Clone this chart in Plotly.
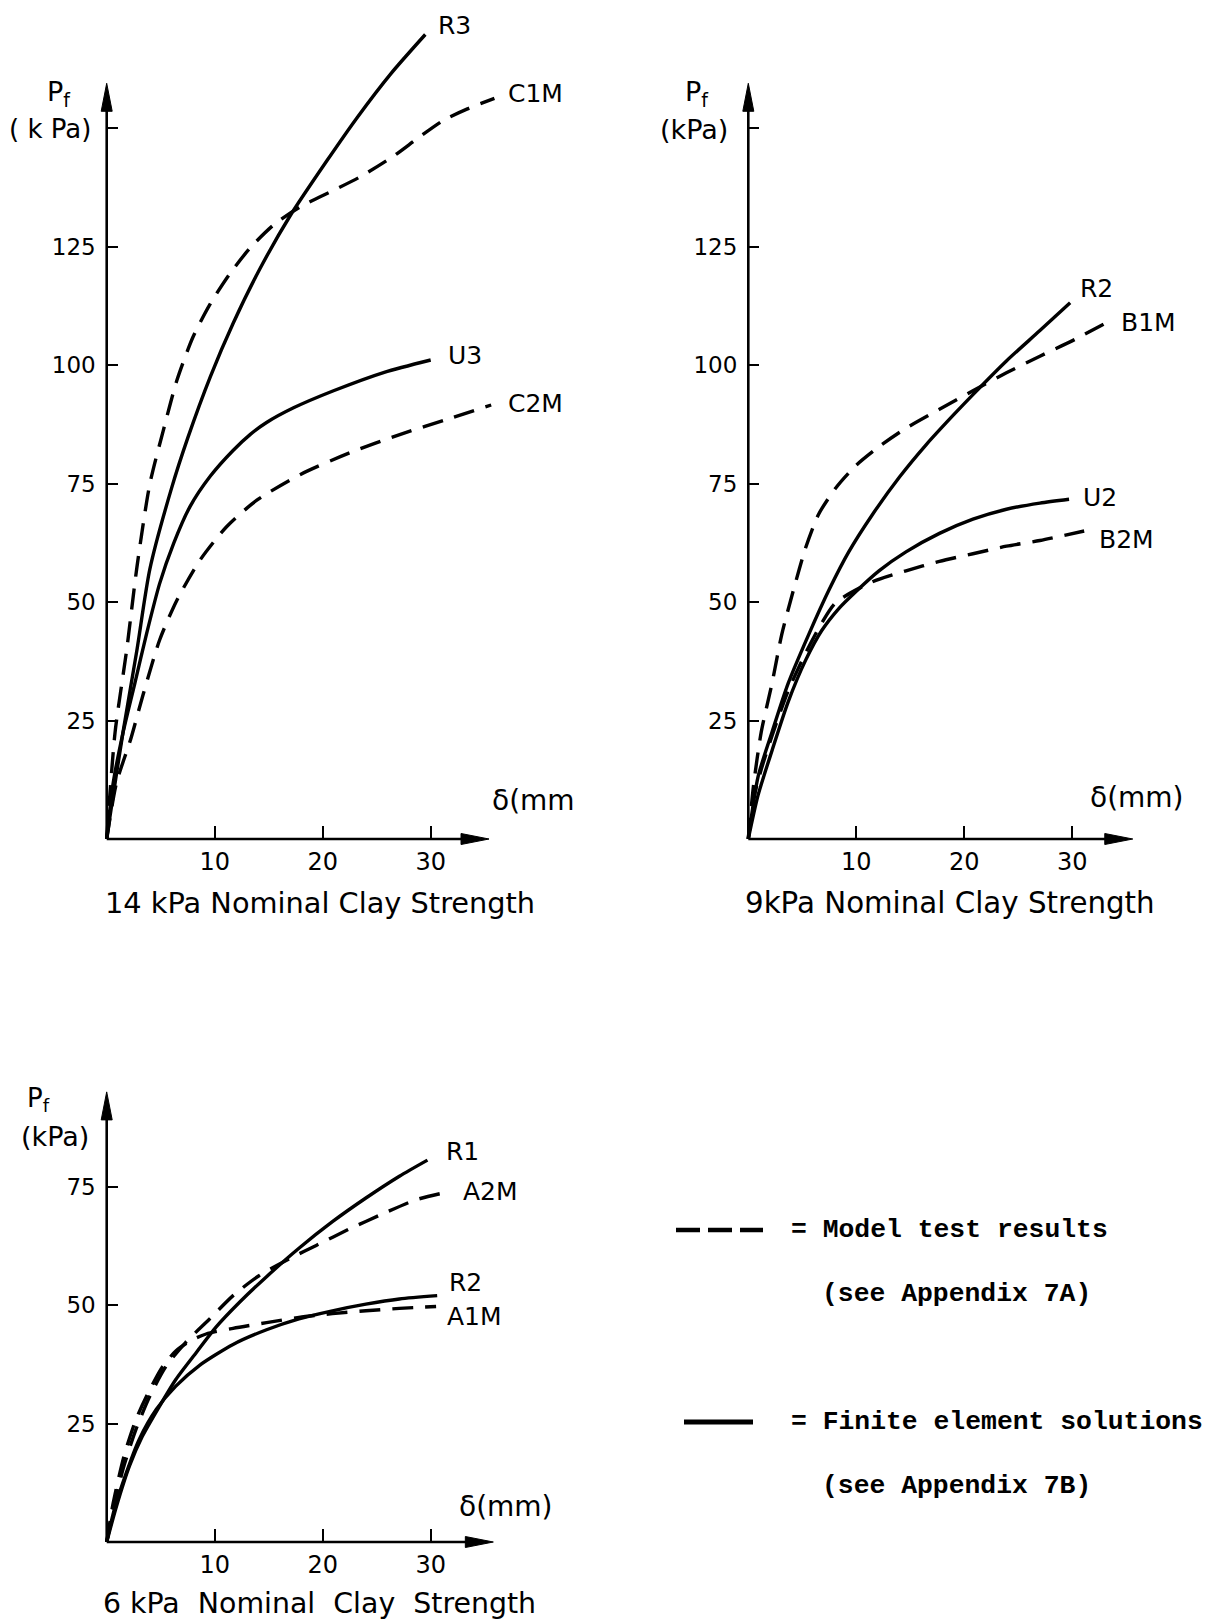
import plotly.graph_objects as go

# ---------------------------------------------------------------
# Footing pressure Pf (kPa) against settlement delta (mm)
# ---------------------------------------------------------------

# 14 kPa nominal clay strength
R3_d = [0, 0.3, 1.5, 2.8, 4.0, 6.0, 7.5, 9.6, 11.7, 14.2, 17.0, 20.4, 23.2, 26.3, 29.5]
R3_p = [0, 4.7, 22.4, 39.9, 57.0, 74.0, 84.6, 97.6, 108.8, 120.4, 131.6, 143.2, 152.3, 161.5, 169.8]
C1M_d = [0, 0.77, 1.85, 2.8, 4.0, 5.25, 6.5, 8.0, 9.6, 11.4, 13.3, 15.5, 17.9, 21.0, 23.5, 26.6, 28.8, 31.2, 33.4, 35.9]
C1M_p = [0, 22.4, 39.9, 57.4, 75.0, 86.3, 96.8, 106.0, 113.0, 119.3, 124.8, 129.7, 133.4, 136.9, 139.8, 144.2, 147.9, 151.7, 154.1, 156.3]
U3_d = [0, 0.6, 1.5, 2.6, 3.7, 4.9, 6.2, 7.7, 9.6, 11.7, 13.3, 14.8, 17.3, 21.0, 25.7, 30.0]
U3_p = [0, 11.8, 22.3, 32.8, 43.4, 53.9, 62.4, 70.1, 76.6, 82.0, 85.4, 87.9, 91.0, 94.6, 98.5, 101.1]
C2M_d = [0, 0.9, 2.2, 3.4, 4.9, 6.5, 8.65, 11.1, 13.9, 17.9, 22.6, 27.2, 31.8, 35.6]
C2M_p = [0, 11.8, 20.9, 30.7, 42.0, 50.4, 58.9, 65.9, 71.5, 76.9, 81.6, 85.4, 88.8, 91.6]

# 9 kPa nominal clay strength
R2_d = [0, 0.9, 2.2, 3.7, 5.6, 7.5, 9.3, 11.5, 14.0, 16.5, 19.0, 20.8, 23.9, 27.0, 29.8]
R2_p = [0, 13.1, 22.6, 32.9, 43.2, 52.7, 60.6, 68.5, 76.4, 83.3, 89.5, 93.8, 100.9, 107.3, 113.2]
B1M_d = [0, 0.5, 1.2, 2.2, 3.1, 4.2, 5.3, 6.5, 8.1, 9.95, 12.1, 14.6, 17.7, 20.8, 23.9, 27.0, 30.2, 33.1]
B1M_p = [0, 11.6, 22.6, 32.9, 43.2, 52.7, 61.4, 68.5, 74.1, 78.8, 82.8, 86.7, 90.7, 94.6, 98.4, 101.9, 105.4, 108.9]
U2_d = [0, 0.9, 2.2, 3.7, 5.3, 6.8, 8.4, 9.95, 12.1, 14.6, 17.7, 20.8, 23.9, 27.0, 29.7]
U2_p = [0, 9.2, 18.7, 29.0, 37.7, 44.0, 48.7, 52.2, 56.6, 60.6, 64.5, 67.5, 69.6, 70.9, 71.7]
B2M_d = [0, 0.3, 1.2, 2.2, 3.7, 5.3, 6.8, 8.1, 11.5, 14.6, 17.7, 20.8, 23.9, 27.0, 31.1]
B2M_p = [0, 6.8, 14.7, 21.8, 31.3, 39.2, 45.6, 49.9, 54.3, 56.6, 58.6, 60.2, 61.8, 63.0, 65.0]

# 6 kPa nominal clay strength
R1_d = [0, 0.9, 2.1, 3.3, 4.9, 6.4, 8.3, 10.1, 12.3, 14.8, 17.8, 20.9, 24.0, 27.1, 29.7]
R1_p = [0, 7.5, 16.0, 22.3, 28.7, 34.3, 40.0, 45.3, 50.6, 56.0, 62.0, 67.6, 72.6, 77.2, 80.6]
A2M_d = [0, 0.6, 1.5, 2.7, 4.0, 5.5, 7.3, 9.5, 11.7, 14.1, 17.2, 19.4, 22.5, 25.6, 28.6, 31.6]
A2M_p = [0, 6.8, 15.3, 23.7, 30.8, 37.1, 42.1, 47.0, 52.0, 56.2, 60.1, 62.6, 66.1, 69.3, 72.2, 73.9]
R2b_d = [0, 0.7, 1.8, 3.0, 4.6, 6.4, 8.6, 11.7, 14.8, 17.8, 20.9, 24.0, 27.1, 30.6]
R2b_p = [0, 6.8, 14.5, 21.6, 28.0, 32.9, 37.3, 41.7, 44.8, 47.1, 48.8, 50.2, 51.3, 52.0]
A1M_d = [0, 0.6, 1.6, 2.7, 4.0, 5.2, 6.4, 7.7, 9.2, 11.7, 14.8, 17.8, 20.9, 24.0, 27.1, 30.5]
A1M_p = [0, 8.2, 18.1, 25.8, 32.2, 37.1, 40.3, 42.4, 43.9, 45.1, 46.3, 47.4, 48.2, 48.8, 49.3, 49.7]

# axis ticks
X_TICKS = [10, 20, 30]
Y_TICKS_TOP = [25, 50, 75, 100, 125]
Y_TICKS_BOT = [25, 50, 75]
Y_UNLABELLED_TOP = [150]

# ---------------------------------------------------------------
W, H = 1206, 1623
PX_MM = 10.8        # pixels per mm of settlement
PX_KPA = 4.738      # pixels per kPa of pressure
FONT = "DejaVu Sans"
MONO = "Liberation Mono"
LW = 3.4
DASH = "21px,12px"

# origin of each panel (pixels), visible ranges, arrow extents
panels = [
    dict(ox=106.7, oy=839.0, xr=(-1, 42), yr=(-3, 176), xtip=35.4, ytip=159.5,
         yt=Y_TICKS_TOP, ym=Y_UNLABELLED_TOP),
    dict(ox=748.3, oy=839.0, xr=(-1, 41.5), yr=(-3, 176), xtip=35.6, ytip=159.5,
         yt=Y_TICKS_TOP, ym=Y_UNLABELLED_TOP),
    dict(ox=106.7, oy=1542.0, xr=(-1, 42), yr=(-3, 100), xtip=35.8, ytip=95.0,
         yt=Y_TICKS_BOT, ym=[]),
]

fig = go.Figure()
layout = {}
shapes = []
annotations = []


def px_to_paper(x, y):
    return x / W, 1 - y / H


for i, p in enumerate(panels, start=1):
    sx = "" if i == 1 else str(i)
    x0 = (p["ox"] + p["xr"][0] * PX_MM) / W
    x1 = (p["ox"] + p["xr"][1] * PX_MM) / W
    yb = 1 - (p["oy"] - p["yr"][0] * PX_KPA) / H
    yt = 1 - (p["oy"] - p["yr"][1] * PX_KPA) / H
    layout["xaxis" + sx] = dict(
        domain=[x0, x1], range=list(p["xr"]), anchor="free",
        position=1 - p["oy"] / H, showgrid=False, zeroline=False, showline=False,
        ticks="inside", ticklen=13, tickwidth=2.4, tickcolor="black",
        tickvals=X_TICKS, ticktext=[str(v) for v in X_TICKS],
        tickfont=dict(family=FONT, size=24, color="black"), ticklabelstandoff=6,
    )
    yax = dict(
        domain=[yb, yt], range=list(p["yr"]), anchor="free",
        position=p["ox"] / W, showgrid=False, zeroline=False, showline=False,
        ticks="inside", ticklen=10, tickwidth=2.4, tickcolor="black",
        tickvals=p["yt"], ticktext=[str(v) for v in p["yt"]],
        tickfont=dict(family=FONT, size=23, color="black"), ticklabelstandoff=11,
    )
    if p["ym"]:
        yax["minor"] = dict(tickvals=p["ym"], ticks="inside", ticklen=10,
                            tickwidth=2.4, tickcolor="black", showgrid=False)
    layout["yaxis" + sx] = yax
    xr, yr = "x" + sx, "y" + sx
    # axis lines with arrow heads
    hl_y = 28 / PX_KPA
    hw_x = 5.5 / PX_MM
    hl_x = 28 / PX_MM
    hw_y = 5.5 / PX_KPA
    shapes.append(dict(type="line", xref=xr, yref=yr, x0=0, y0=0, x1=0, y1=p["ytip"] - hl_y * 0.6,
                       line=dict(color="black", width=2.6)))
    shapes.append(dict(type="line", xref=xr, yref=yr, x0=0, y0=0, x1=p["xtip"] - hl_x * 0.6, y1=0,
                       line=dict(color="black", width=2.6)))
    shapes.append(dict(type="path", xref=xr, yref=yr,
                       path=f"M {-hw_x},{p['ytip'] - hl_y} L 0,{p['ytip']} L {hw_x},{p['ytip'] - hl_y} Z",
                       fillcolor="black", line=dict(color="black", width=1)))
    shapes.append(dict(type="path", xref=xr, yref=yr,
                       path=f"M {p['xtip'] - hl_x},{-hw_y} L {p['xtip']},0 L {p['xtip'] - hl_x},{hw_y} Z",
                       fillcolor="black", line=dict(color="black", width=1)))


def curve(d, pf, i, dashed):
    sx = "" if i == 1 else str(i)
    fig.add_trace(go.Scatter(
        x=d, y=pf, mode="lines", xaxis="x" + sx, yaxis="y" + sx,
        line=dict(color="black", width=LW, shape="spline", smoothing=0.7,
                  dash=DASH if dashed else "solid"),
        hoverinfo="skip", showlegend=False))


curve(R3_d, R3_p, 1, False)
curve(C1M_d, C1M_p, 1, True)
curve(U3_d, U3_p, 1, False)
curve(C2M_d, C2M_p, 1, True)
curve(R2_d, R2_p, 2, False)
curve(B1M_d, B1M_p, 2, True)
curve(U2_d, U2_p, 2, False)
curve(B2M_d, B2M_p, 2, True)
curve(R1_d, R1_p, 3, False)
curve(A2M_d, A2M_p, 3, True)
curve(R2b_d, R2b_p, 3, False)
curve(A1M_d, A1M_p, 3, True)

# curve names
curve_labels = [
    ("R3", 32.2, 171.7, 1), ("C1M", 39.7, 157.3, 1), ("U3", 33.2, 102.1, 1), ("C2M", 39.7, 91.9, 1),
    ("R2", 32.2, 116.1, 2), ("B1M", 37.1, 109.1, 2), ("U2", 32.6, 72.0, 2), ("B2M", 35.0, 63.3, 2),
    ("R1", 32.9, 82.5, 3), ("A2M", 35.5, 74.0, 3), ("R2", 33.2, 54.8, 3), ("A1M", 34.1, 47.5, 3),
]
for txt, x, y, i in curve_labels:
    sx = "" if i == 1 else str(i)
    annotations.append(dict(text=txt, x=x, y=y, xref="x" + sx, yref="y" + sx, showarrow=False,
                            xanchor="center", yanchor="middle",
                            font=dict(family=FONT, size=25, color="black")))


def text_px(txt, x, y, size, family=FONT, xanchor="center", bold=False):
    px, py = px_to_paper(x, y)
    if bold:
        txt = "<b>" + txt + "</b>"
    annotations.append(dict(text=txt, x=px, y=py, xref="paper", yref="paper", showarrow=False,
                            xanchor=xanchor, yanchor="middle",
                            font=dict(family=family, size=size, color="black")))


# axis titles
text_px("P<sub>f</sub>", 59, 94, 27)
text_px("( k Pa)", 50, 129, 26)
text_px("δ(mm", 533, 800, 28)
text_px("P<sub>f</sub>", 697, 94, 27)
text_px("(kPa)", 694, 129, 27)
text_px("δ(mm)", 1137, 797, 28)
text_px("P<sub>f</sub>", 38, 1099, 26)
text_px("(kPa)", 55, 1136, 27)
text_px("δ(mm)", 506, 1506, 28)

# panel captions
text_px("14 kPa Nominal Clay Strength", 103, 903, 28.8, xanchor="left")
text_px("9kPa Nominal Clay Strength", 743, 903, 29.3, xanchor="left")
text_px("6 kPa  Nominal  Clay  Strength", 101, 1603, 28.4, xanchor="left")

# key
text_px("= Model test results", 789, 1230, 26.4, family=MONO, xanchor="left", bold=True)
text_px("(see Appendix 7A)", 820, 1294, 26.4, family=MONO, xanchor="left", bold=True)
text_px("= Finite element solutions", 789, 1422, 26.4, family=MONO, xanchor="left", bold=True)
text_px("(see Appendix 7B)", 820, 1486, 26.4, family=MONO, xanchor="left", bold=True)

kx0, ky = px_to_paper(676, 1230)
kx1, _ = px_to_paper(763, 1230)
shapes.append(dict(type="line", xref="paper", yref="paper", x0=kx0, y0=ky, x1=kx1, y1=ky,
                   line=dict(color="black", width=4.5, dash="24px,8px")))
sx0, sy = px_to_paper(684, 1422)
sx1, _ = px_to_paper(753, 1422)
shapes.append(dict(type="line", xref="paper", yref="paper", x0=sx0, y0=sy, x1=sx1, y1=sy,
                   line=dict(color="black", width=5)))

fig.update_layout(
    width=W, height=H, margin=dict(l=0, r=0, t=0, b=0),
    paper_bgcolor="white", plot_bgcolor="white", showlegend=False,
    shapes=shapes, annotations=annotations, **layout,
)

fig.write_html("out.html")
